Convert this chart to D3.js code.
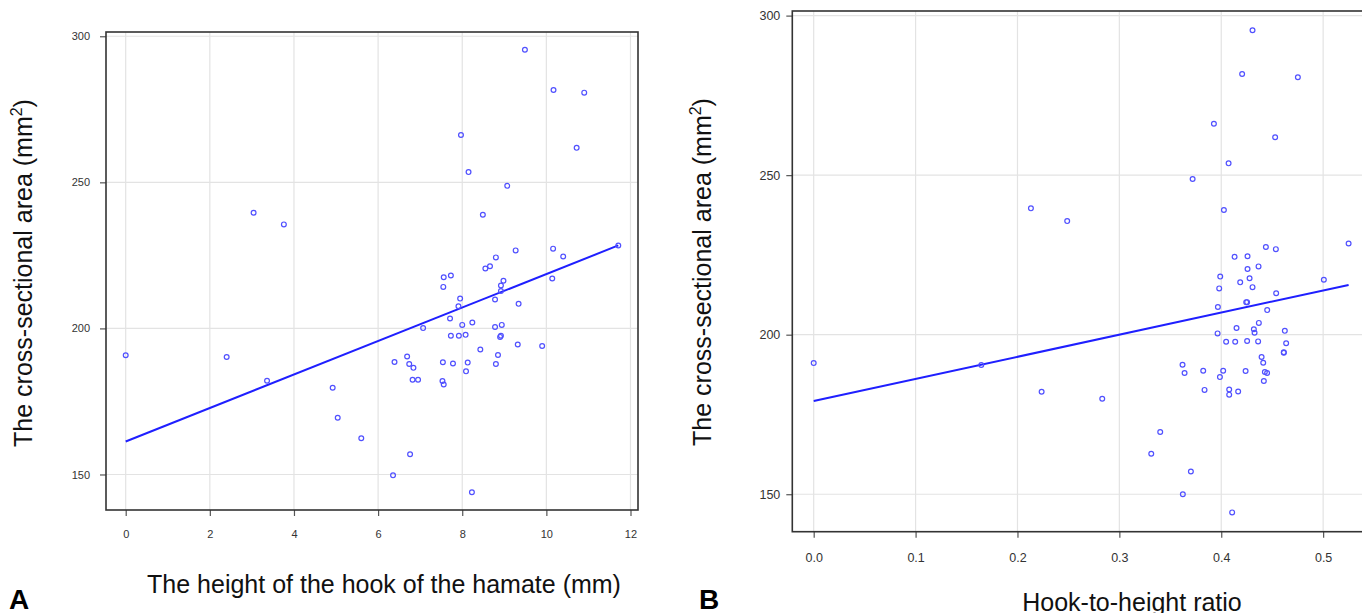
<!DOCTYPE html>
<html>
<head>
<meta charset="utf-8">
<script src="https://cdn.jsdelivr.net/npm/d3@7"></script>
<style>
  body { margin: 0; background: #fff; }
  svg { display: block; font-family: "Liberation Sans", Arial, Helvetica, sans-serif; }
</style>
</head>
<body>
<svg id="chart" width="1362" height="613"></svg>
<script>
// Panel A: hook height (mm) vs cross-sectional area (mm^2)
const hookHeight = [3.04, 3.76, 9.49, 10.17, 10.9, 7.97, 10.72, 8.15, 9.07, 8.49, 9.27, 10.16, 10.4, 11.71,
  8.8, 8.55, 8.66, 0.0, 2.4, 3.36, 4.92, 5.04, 5.6, 7.56, 7.73, 7.55, 8.98, 8.92, 8.92, 10.14, 7.95, 8.78,
  9.34, 7.91, 7.71, 7.07, 8.0, 8.24, 8.78, 8.94, 7.73, 7.92, 8.08, 8.9, 8.92, 9.32, 9.9, 8.43, 6.39, 6.69,
  6.74, 6.84, 7.54, 7.78, 8.13, 8.85, 8.8, 8.09, 6.82, 6.95, 7.53, 7.56, 6.76, 6.355, 8.23];
const areaA = [239.6, 235.6, 295.4, 281.6, 280.7, 266.2, 261.8, 253.5, 248.8, 238.9, 226.7, 227.3, 224.6, 228.4,
  224.3, 220.5, 221.3, 190.8, 190.2, 182.1, 179.7, 169.4, 162.4, 217.5, 218.1, 214.2, 216.3, 214.7, 212.8, 217.1,
  210.2, 209.9, 208.4, 207.6, 203.4, 200.1, 201.2, 202.0, 200.5, 201.2, 197.5, 197.5, 197.8, 197.1, 197.5, 194.5,
  194.0, 192.8, 188.5, 190.4, 187.8, 186.5, 188.4, 188.0, 188.3, 190.9, 187.8, 185.3, 182.4, 182.4, 182.0, 180.8,
  156.9, 149.7, 143.9];
const fitAx = [0, 11.71];
const fitAy = [161.3, 228.4];

// Panel B: hook-to-height ratio vs cross-sectional area (mm^2)
const ratio = [0.2132, 0.2488, 0.4307, 0.4205, 0.4752, 0.3928, 0.4529, 0.4072, 0.3719, 0.4026, 0.4438, 0.4536,
  0.525, 0.4131, 0.4258, 0.4366, 0.4258, 0.4278, 0.399, 0.5007, 0.4186, 0.398, 0.4307, 0.4539, 0.4245, 0.4254,
  0.3967, 0.4451, 0.4369, 0.415, 0.432, 0.4327, 0.3964, 0.4624, 0.4048, 0.4137, 0.4254, 0.4362, 0.4637, 0.4614,
  0.4614, 0.4396, 0.4412, 0.362, 0.364, 0.3823, 0.4019, 0.4239, 0.4428, 0.445, 0.3987, 0.4418, 0.3836, 0.4078,
  0.4078, 0.4166, 0.2832, 0.3401, 0.3313, 0.3702, 0.3623, 0.4107, 0.0, 0.1645, 0.2237];
const areaB = [239.6, 235.6, 295.4, 281.7, 280.7, 266.1, 261.9, 253.7, 248.8, 239.1, 227.5, 226.8, 228.6, 224.4,
  224.6, 221.4, 220.6, 217.7, 218.2, 217.2, 216.4, 214.5, 214.9, 213.0, 210.2, 210.2, 208.7, 207.7, 203.7, 202.1,
  201.7, 200.6, 200.4, 201.2, 197.8, 197.8, 198.0, 197.9, 197.3, 194.5, 194.3, 193.0, 191.2, 190.6, 188.0, 188.7,
  188.7, 188.6, 188.3, 188.0, 186.7, 185.5, 182.7, 182.8, 181.2, 182.2, 179.9, 169.5, 162.7, 157.1, 150.0, 144.3,
  191.1, 190.5, 182.1];
const fitBx = [0, 0.525];
const fitBy = [179.2, 215.6];

const xTicksA = [0, 2, 4, 6, 8, 10, 12];
const xTicksB = [0, 0.1, 0.2, 0.3, 0.4, 0.5];
const yTicks = [150, 200, 250, 300];

const svg = d3.select('#chart');

// R-style axis range: data extent padded by 4% each side
function pad(ext) {
  const d = (ext[1] - ext[0]) * 0.04;
  return [ext[0] - d, ext[1] + d];
}

function panel(cfg) {
  const x = d3.scaleLinear().domain(pad(d3.extent(cfg.xs))).range([cfg.left, cfg.right]);
  const y = d3.scaleLinear().domain(pad(d3.extent(cfg.ys))).range([cfg.bottom, cfg.top]);
  const g = svg.append('g');

  // grid
  g.selectAll('.vg').data(cfg.xTicks).enter().append('line')
    .attr('x1', d => x(d)).attr('x2', d => x(d))
    .attr('y1', cfg.top).attr('y2', cfg.bottom)
    .attr('stroke', '#e3e3e3').attr('stroke-width', 1.2);
  g.selectAll('.hg').data(yTicks).enter().append('line')
    .attr('x1', cfg.left).attr('x2', cfg.right)
    .attr('y1', d => y(d)).attr('y2', d => y(d))
    .attr('stroke', '#e3e3e3').attr('stroke-width', 1.2);

  // axes
  const xAxis = d3.axisBottom(x).tickValues(cfg.xTicks).tickSize(cfg.tick).tickPadding(cfg.xPad)
    .tickFormat(cfg.xFmt);
  const gx = g.append('g').attr('transform', `translate(0,${cfg.bottom})`).call(xAxis);
  const yAxis = d3.axisLeft(y).tickValues(yTicks).tickSize(cfg.tick).tickPadding(cfg.yPad);
  const gy = g.append('g').attr('transform', `translate(${cfg.left},0)`).call(yAxis);
  [gx, gy].forEach(a => {
    a.select('.domain').remove();
    a.selectAll('line').attr('stroke', '#555').attr('stroke-width', 1.2);
    a.selectAll('text').attr('fill', '#333').style('font-size', cfg.tickFont + 'px')
      .style('font-family', '"Liberation Sans", Arial, sans-serif');
  });

  // box
  g.append('rect')
    .attr('x', cfg.left).attr('y', cfg.top)
    .attr('width', cfg.right - cfg.left).attr('height', cfg.bottom - cfg.top)
    .attr('fill', 'none').attr('stroke', '#333').attr('stroke-width', 1.6);

  // regression line
  g.append('line')
    .attr('x1', x(cfg.fx[0])).attr('y1', y(cfg.fy[0]))
    .attr('x2', x(cfg.fx[1])).attr('y2', y(cfg.fy[1]))
    .attr('stroke', '#1f1fff').attr('stroke-width', 2);

  // points
  g.selectAll('circle').data(cfg.xs).enter().append('circle')
    .attr('cx', d => x(d)).attr('cy', (d, i) => y(cfg.ys[i]))
    .attr('r', 2.4).attr('fill', 'none')
    .attr('stroke', '#5050ff').attr('stroke-width', 1.2);

  // y title
  const yt = g.append('text')
    .attr('transform', `translate(${cfg.yTitleX},${cfg.yTitleY}) rotate(-90)`)
    .attr('text-anchor', 'middle').style('font-size', '25px').attr('fill', '#111');
  yt.append('tspan').text('The cross-sectional area (mm');
  yt.append('tspan').text('2').attr('dy', -10).style('font-size', '16px');
  yt.append('tspan').text(')').attr('dy', 10);

  // x title
  g.append('text').attr('x', cfg.xTitleX).attr('y', cfg.xTitleY)
    .attr('text-anchor', 'middle').style('font-size', '25px').attr('fill', '#111')
    .text(cfg.xTitle);

  // panel letter
  g.append('text').attr('x', cfg.letterX).attr('y', 609)
    .style('font-size', '28px').style('font-weight', 'bold').attr('fill', '#000')
    .text(cfg.letter);
}

panel({
  xs: hookHeight, ys: areaA, fx: fitAx, fy: fitAy,
  left: 106, right: 638, top: 32, bottom: 510,
  xTicks: xTicksA, xFmt: d3.format('d'), tick: 6, xPad: 14, yPad: 10, tickFont: 11,
  yTitleX: 32, yTitleY: 273, xTitleX: 384, xTitleY: 593,
  xTitle: 'The height of the hook of the hamate (mm)', letter: 'A', letterX: 9
});

panel({
  xs: ratio, ys: areaB, fx: fitBx, fy: fitBy,
  left: 792.3, right: 1370, top: 11, bottom: 531.7,
  xTicks: xTicksB, xFmt: d3.format('.1f'), tick: 6, xPad: 15, yPad: 6, tickFont: 12.5,
  yTitleX: 711, yTitleY: 272, xTitleX: 1132, xTitleY: 611,
  xTitle: 'Hook-to-height ratio', letter: 'B', letterX: 699
});
</script>
</body>
</html>
